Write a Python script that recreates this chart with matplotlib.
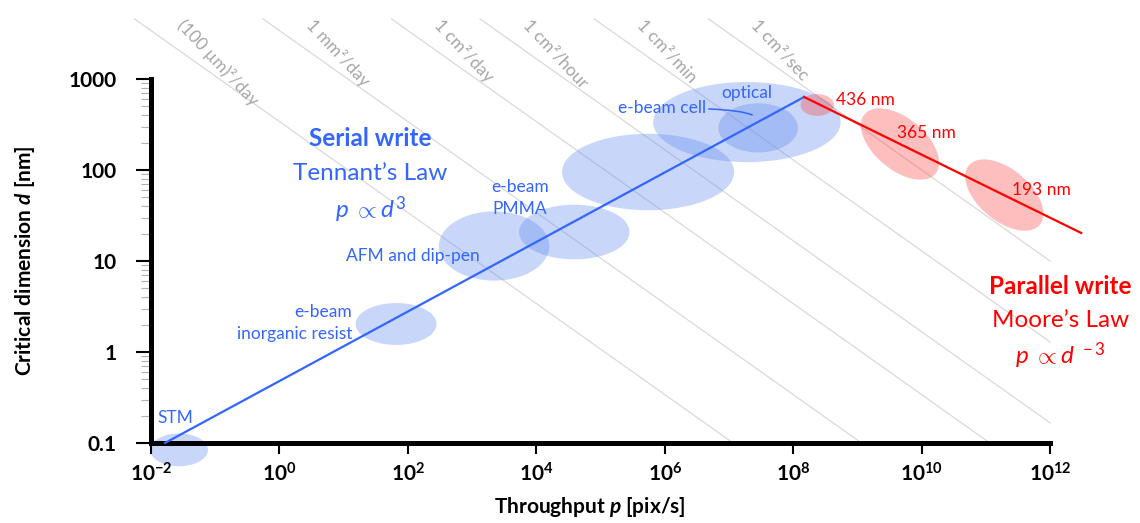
import numpy as np
import matplotlib.pyplot as plt
from matplotlib.ticker import NullLocator, LogLocator

plt.rcParams['font.family'] = ['Lato', 'DejaVu Sans']
plt.rcParams['mathtext.fontset'] = 'custom'
plt.rcParams['mathtext.rm'] = 'Lato'
plt.rcParams['mathtext.it'] = 'Lato:italic'
plt.rcParams['mathtext.bf'] = 'Lato:bold'
plt.rcParams['mathtext.bfit'] = 'Lato:italic:bold'

# serial-write techniques: centre throughput (pix/s), centre dimension (nm),
# half spread in decades along p and d
tech_names = ['STM', 'e-beam\ninorganic resist', 'AFM and dip-pen', 'e-beam\nPMMA',
              '', 'e-beam cell', 'optical']
tech_p = [0.0273, 65.5, 2200, 3.9e4, 5.5e5, 1.9e7, 2.85e7]
tech_d = [0.084, 2.03, 14.6, 20.8, 95, 336, 290]
tech_sp = [0.45, 0.63, 0.86, 0.86, 1.34, 1.46, 0.62]
tech_sd = [0.18, 0.23, 0.38, 0.30, 0.42, 0.44, 0.27]

# parallel write (optical lithography wavelengths)
litho_names = ['436 nm', '365 nm', '193 nm']
litho_p = [2.37e8, 4.6e9, 1.94e11]
litho_d = [518, 193, 53]
litho_a = [0.26, 0.72, 0.72]      # semi axes in p-decades
litho_b = [0.17, 0.40, 0.40]
litho_tilt = [0, -40, -40]

# trend lines
serial_p = [0.0165, 1.48e8]
serial_d = [0.1, 634]
parallel_p = [1.48e8, 3.06e12]
parallel_d = [634, 20.3]

# constant area-rate lines, nm^2/s
area_labels = ['(100 µm)²/day', '1 mm²/day', '1 cm²/day', '1 cm²/hour', '1 cm²/min', '1 cm²/sec']
area_rate = [1e10 / 86400, 1e12 / 86400, 1e14 / 86400, 1e14 / 3600, 1e14 / 60, 1e14]

x_ticks = [1e-2, 1e0, 1e2, 1e4, 1e6, 1e8, 1e10, 1e12]
x_labels = [r'$\mathbf{10^{-2}}$', r'$\mathbf{10^{0}}$', r'$\mathbf{10^{2}}$', r'$\mathbf{10^{4}}$',
            r'$\mathbf{10^{6}}$', r'$\mathbf{10^{8}}$', r'$\mathbf{10^{10}}$', r'$\mathbf{10^{12}}$']
y_ticks = [0.1, 1, 10, 100, 1000]
y_labels = ['0.1', '1', '10', '100', '1000']

blue = '#3366FF'
red = '#FF0000'

fig = plt.figure(figsize=(11.4, 5.23), dpi=100)
ax = fig.add_axes([0.1325, 0.153, 0.7886, 0.696])
ax.set_xscale('log')
ax.set_yscale('log')
ax.set_xlim(1e-2, 1e12)
ax.set_ylim(0.1, 1000)

# pixel ratio between a d-decade and a p-decade
pos = ax.get_position()
k = (pos.height * 523 / 4) / (pos.width * 1140 / 14)


def ellipse(pc, dc, a, b, tilt, color, alpha):
    t = np.linspace(0, 2 * np.pi, 200)
    th = np.radians(tilt)
    X = a * np.cos(t) * np.cos(th) - b * np.sin(t) * np.sin(th)
    Y = a * np.cos(t) * np.sin(th) + b * np.sin(t) * np.cos(th)
    ax.fill(10 ** (np.log10(pc) + X), 10 ** (np.log10(dc) + Y / k),
            color=color, alpha=alpha, lw=0, clip_on=False, zorder=1)


# gray constant-area lines with their labels
d_top = 10 ** 3.66
for lab, A in zip(area_labels, area_rate):
    d_bot = max(0.1, np.sqrt(A / 1e12))
    d = np.array([d_top, d_bot])
    ax.plot(A / d ** 2, d, color='#d9d9d9', lw=0.9, clip_on=False, zorder=0)
    d_lab = 10 ** 3.626
    ax.annotate(lab, xy=(A / d_lab ** 2, d_lab), xytext=(30, 0), textcoords='offset points',
                rotation=-47, rotation_mode='anchor', ha='left', va='center',
                color='#a6a6a6', fontsize=12.5, annotation_clip=False)

for i in range(len(tech_p)):
    ellipse(tech_p[i], tech_d[i], tech_sp[i], tech_sd[i] * k, 0, (0.39, 0.55, 0.94), 0.35)
for i in range(len(litho_p)):
    ellipse(litho_p[i], litho_d[i], litho_a[i], litho_b[i], litho_tilt[i], (0.98, 0.27, 0.27), 0.35)

ax.plot(serial_p, serial_d, color=blue, lw=1.6, clip_on=False, zorder=3)
ax.plot(parallel_p, parallel_d, color=red, lw=1.6, clip_on=False, zorder=3)

# technique labels
fs = 12.5
ax.text(0.0124, 0.188, 'STM', color=blue, fontsize=fs, ha='left', va='center')
ax.text(13.5, 2.08, tech_names[1], color=blue, fontsize=fs, ha='right', va='center',
        multialignment='right', linespacing=1.45)
ax.text(120, 11.4, tech_names[2], color=blue, fontsize=fs, ha='center', va='center')
ax.text(5600, 49.2, tech_names[3], color=blue, fontsize=fs, ha='center', va='center',
        linespacing=1.45)
ax.text(1.92e7, 702, tech_names[6], color=blue, fontsize=fs, ha='center', va='center')
ax.annotate(tech_names[5], xy=(2.3e7, 402), xytext=(4.4e6, 480), color=blue, fontsize=fs,
            ha='right', va='center',
            arrowprops=dict(arrowstyle='-', color=blue, lw=1.1,
                            connectionstyle='angle3,angleA=0,angleB=-25',
                            shrinkA=0, shrinkB=0))
for name, x, y in zip(litho_names, [4.68e8, 4.17e9, 2.58e11], [588, 255, 60.3]):
    ax.text(x, y, name, color=red, fontsize=fs, ha='left', va='center')

# law annotations
ax.text(25.8, 219, 'Serial write', color=blue, fontsize=17.5, fontweight='bold',
        ha='center', va='center')
ax.text(25.8, 90.4, 'Tennant’s Law', color=blue, fontsize=17.5, ha='center', va='center')
ax.text(25.8, 36.3, r'$p\ \propto d^3$', color=blue, fontsize=17.5, ha='center', va='center')
ax.text(1.44e12, 5.18, 'Parallel write', color=red, fontsize=17.5, fontweight='bold',
        ha='center', va='center')
ax.text(1.44e12, 2.19, 'Moore’s Law', color=red, fontsize=17.5, ha='center', va='center')
ax.text(1.44e12, 0.904, r'$p\ \propto d^{\ -3}$', color=red, fontsize=17.5, ha='center', va='center')

# axes styling
for s in ['top', 'right']:
    ax.spines[s].set_visible(False)
for s in ['left', 'bottom']:
    ax.spines[s].set_linewidth(3.6)
    ax.spines[s].set_zorder(2.5)

ax.set_xticks(x_ticks)
ax.set_xticklabels(x_labels)
ax.xaxis.set_minor_locator(NullLocator())
ax.set_yticks(y_ticks)
ax.set_yticklabels(y_labels, fontweight='bold')
ax.yaxis.set_minor_locator(LogLocator(subs=np.arange(2, 10)))
ax.tick_params(axis='x', which='major', length=8, width=1.5, pad=6, labelsize=15)
ax.tick_params(axis='y', which='major', length=11, width=1.5, pad=14, labelsize=15)
ax.tick_params(axis='y', which='minor', length=7, width=0.8, color='#b0b0b0')

ax.set_xlabel(r'Throughput $\mathbfit{p}$ [pix/s]', fontsize=15, fontweight='bold')
ax.set_ylabel(r'Critical dimension $\mathbfit{d}$ [nm]', fontsize=15, fontweight='bold')
ax.xaxis.set_label_coords(0.488, -0.143)
ax.yaxis.set_label_coords(-0.127, 0.5)

fig.savefig('out.png', dpi=100)
